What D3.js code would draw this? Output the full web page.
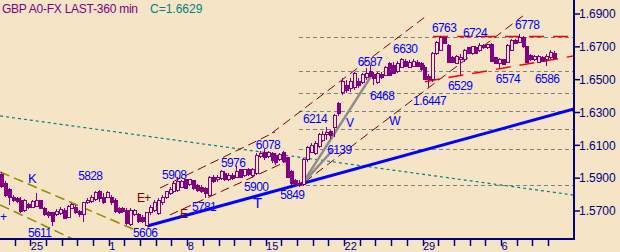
<!DOCTYPE html>
<html>
<head>
<meta charset="utf-8">
<style>
    body { margin: 0; background: #f5e5c6; }
    svg { display: block; }
    text { font-family: "Liberation Sans", Arial, sans-serif; }
</style>
</head>
<body>
<svg width="620" height="252"></svg>
<script src="https://d3js.org/d3.v7.min.js"></script>
<script>

let width = 620
let height = 252
let svg = d3.select("svg")

// 360 min bars, prices in pips (x 0.0001)
let opens = [15925,15870,15834,15785,15779,15761,15706,15737,15724,15730,
    15761,15718,15688,15688,15676,15682,15706,15663,15718,15724,
    15694,15676,15749,15755,15773,15816,15785,15785,15785,15767,
    15718,15718,15706,15615,15676,15676,15663,15609,15688,15706,
    15682,15749,15785,15804,15816,15822,15846,15889,15864,15883,
    15858,15846,15840,15797,15907,15889,15901,15931,15889,15919,
    15907,15950,15919,15950,15919,15931,16029,16059,16029,16053,
    16041,16011,16059,16023,15938,15883,15870,15864,16011,16059,
    16053,16090,16132,16163,16187,16206,16352,16419,16467,16449,
    16455,16486,16480,16516,16547,16534,16480,16534,16528,16601,
    16589,16547,16577,16613,16577,16583,16607,16601,16577,16522,
    16498,16662,16680,16754,16711,16638,16601,16620,16620,16693,
    16662,16693,16680,16711,16693,16717,16632,16601,16620,16607,
    16680,16741,16729,16754,16699,16650,16620,16607,16638,16620,
    16632,16662]
let highs = [15938,15883,15840,15797,15785,15785,15773,15749,15767,15810,
    15767,15724,15700,15694,15712,15724,15718,15737,15749,15737,
    15706,15755,15779,15797,15822,15828,15810,15822,15797,15779,
    15724,15724,15718,15718,15712,15688,15676,15694,15737,15767,
    15779,15797,15822,15846,15877,15908,15889,15895,15895,15889,
    15864,15858,15846,15913,15919,15919,15950,15944,15931,15931,
    15976,15956,15956,15962,15962,16053,16065,16078,16065,16059,
    16053,16053,16065,16029,15950,15895,15889,16023,16096,16114,
    16126,16175,16187,16214,16193,16291,16364,16510,16498,16510,
    16547,16510,16540,16571,16587,16547,16547,16547,16583,16607,
    16607,16613,16630,16626,16620,16626,16620,16607,16589,16534,
    16668,16735,16763,16760,16717,16644,16650,16656,16687,16699,
    16705,16705,16724,16717,16720,16723,16638,16632,16626,16717,
    16747,16747,16778,16766,16705,16656,16650,16650,16644,16656,
    16680,16674]
let lows = [15840,15785,15737,15755,15749,15688,15694,15712,15718,15724,
    15712,15670,15657,15611,15670,15676,15651,15657,15712,15682,
    15663,15633,15743,15749,15761,15755,15743,15779,15737,15688,
    15682,15688,15615,15609,15670,15627,15627,15606,15676,15694,
    15676,15737,15773,15797,15810,15816,15840,15834,15852,15828,
    15816,15810,15781,15791,15870,15877,15889,15883,15883,15889,
    15901,15901,15907,15913,15900,15919,16023,16011,16023,15993,
    15980,16005,15993,15901,15858,15852,15849,15852,15999,16053,
    16041,16084,16120,16132,16139,16151,16279,16406,16419,16425,
    16437,16449,16474,16498,16516,16468,16474,16504,16522,16522,
    16534,16540,16571,16577,16571,16577,16577,16553,16498,16447,
    16486,16650,16674,16717,16601,16601,16595,16529,16607,16656,
    16656,16656,16668,16687,16687,16607,16595,16574,16589,16601,
    16674,16717,16723,16693,16601,16613,16613,16601,16607,16586,
    16626,16626]
let closes = [15852,15797,15785,15761,15755,15694,15761,15724,15755,15761,
    15718,15676,15670,15633,15694,15712,15657,15730,15737,15688,
    15676,15749,15767,15785,15810,15779,15749,15810,15749,15694,
    15688,15694,15621,15706,15706,15633,15633,15688,15724,15749,
    15767,15785,15816,15834,15870,15877,15877,15840,15889,15840,
    15822,15816,15804,15907,15877,15907,15938,15889,15919,15901,
    15938,15907,15950,15925,15950,16041,16053,16023,16059,16005,
    15993,16047,15999,15907,15870,15864,15858,16011,16084,16102,
    16114,16163,16169,16181,16157,16279,16291,16486,16437,16486,
    16540,16467,16534,16540,16522,16510,16540,16516,16577,16528,
    16540,16601,16620,16583,16607,16613,16583,16559,16504,16504,
    16662,16729,16754,16723,16607,16607,16644,16638,16680,16662,
    16699,16662,16711,16693,16717,16613,16601,16620,16595,16711,
    16741,16723,16754,16699,16607,16620,16644,16644,16613,16644,
    16668,16629]

// 4 bars per trading day, mondays get a date label
let barsPerDay = 4
let tradingDays = 36
let mondays = [[2, "25"], [7, "1"], [12, "8"], [17, "15"], [22, "22"], [27, "29"], [32, "6"]]
let priceTicks = [1.57, 1.59, 1.61, 1.63, 1.65, 1.67, 1.69]

// drawn studies: [bar, price] end points
let levels = [1.6760, 1.6553, 1.6419, 1.6310, 1.6201, 1.6077, 1.5858]
let levelStart = 76
let tealLine = [[-0.2, 1.6279], [146.1, 1.5797]]
let blueLine = [[37.3, 1.5609], [146.1, 1.6321]]
let grayLines = [[[76.8, 1.5864], [94.9, 1.6540]], [[77.0, 1.5870], [84.6, 1.6070]]]
let maroonLines = [
    [[69.1, 1.6175], [108.1, 1.6881]],
    [[77.5, 1.5877], [133.1, 1.6888]],
    [[40.6, 1.5840], [69.9, 1.6181]],
    [[43.1, 1.5676], [73.7, 1.6011]]
]
let oliveLines = [[[-0.2, 1.5938], [33.7, 1.5590]], [[-0.2, 1.5737], [18.9, 1.5523]]]
let redLines = [[[108.1, 1.6488], [145.9, 1.6644]], [[110.2, 1.6763], [144.6, 1.6763]]]

// text notes: [text, bar, price, colour, size]
let notes = [
    ["5611", 6.9, 1.5543], ["5828", 19.7, 1.5889], ["5606", 33.7, 1.5543],
    ["5908", 41.1, 1.5895], ["5781", 48.7, 1.5700], ["5976", 56.1, 1.5968],
    ["5900", 62.0, 1.5822], ["6078", 65.0, 1.6078], ["5849", 71.2, 1.5773],
    ["6214", 77.0, 1.6236], ["6139", 83.2, 1.6047], ["6587", 91.0, 1.6583],
    ["6468", 94.1, 1.6376], ["6630", 100.0, 1.6662], ["1.6447", 105.1, 1.6346],
    ["6763", 109.9, 1.6790], ["6724", 117.8, 1.6760], ["6778", 131.1, 1.6808],
    ["6529", 114.0, 1.6437], ["6574", 126.2, 1.6480], ["6586", 136.2, 1.6480],
    ["K", 6.9, 1.5870, "#0000ff", 13], ["T", 64.3, 1.5718, "#0000ff", 15],
    ["V", 88.0, 1.6212], ["W", 99.0, 1.6224], ["+", -0.2, 1.5639],
    ["E+", 34.7, 1.5755, "#800000"], ["E", 45.7, 1.5657, "#800000"]
]

let bg = "#f5e5c6"
let purple = "#800080"
let navy = "#000080"
let plotRight = 574
let plotBottom = 239

let x = d3.scaleLinear().domain([0, 141]).range([0.885, 0.885 + 3.922 * 141])
let y = d3.scaleLinear().domain([1.57, 1.69]).range([211, 14])
let px = v => v / 10000

svg.append("rect").attr("width", width).attr("height", height).attr("fill", bg)

svg.append("defs").append("clipPath").attr("id", "plot")
    .append("rect").attr("width", plotRight).attr("height", plotBottom)

let plot = svg.append("g").attr("clip-path", "url(#plot)")

let lineGen = d3.line().x(d => x(d[0])).y(d => y(d[1]))

// horizontal levels
plot.append("g").selectAll("line")
    .data(levels)
    .enter()
    .append("line")
    .attr("x1", x(levelStart)).attr("x2", plotRight)
    .attr("y1", d => Math.round(y(d)) + 0.5).attr("y2", d => Math.round(y(d)) + 0.5)
    .attr("stroke", "#808080").attr("stroke-dasharray", "4,3")

function drawLines(data, color, w, dash) {
    plot.append("g").selectAll("path")
        .data(data)
        .enter()
        .append("path")
        .attr("d", lineGen)
        .attr("fill", "none")
        .attr("stroke", color)
        .attr("stroke-width", w)
        .attr("stroke-dasharray", dash)
}

drawLines([tealLine], "#008080", 1.2, "3,3")
drawLines(oliveLines, "#8c8c00", 1.5, "10,5")
drawLines(maroonLines, "#800000", 1, "9,5")
drawLines(redLines, "#ff0000", 1.5, "15,9")
drawLines(grayLines, "#8c8c8c", 2.5, null)
drawLines([blueLine], "#0000ff", 3, null)

// candles
let bars = d3.range(closes.length)
let candle = plot.append("g").attr("shape-rendering", "crispEdges")
    .selectAll("g")
    .data(bars)
    .enter()
    .append("g")

candle.append("line")
    .attr("x1", i => Math.round(x(i)) + 0.5).attr("x2", i => Math.round(x(i)) + 0.5)
    .attr("y1", i => y(px(highs[i]))).attr("y2", i => y(px(lows[i])))
    .attr("stroke", purple)

candle.append("rect")
    .attr("x", i => Math.round(x(i)) - 1)
    .attr("width", 3)
    .attr("y", i => y(px(Math.max(opens[i], closes[i]))))
    .attr("height", i => Math.max(1, Math.abs(y(px(opens[i])) - y(px(closes[i])))))
    .attr("fill", i => closes[i] >= opens[i] ? bg : purple)
    .attr("stroke", purple)

// notes
svg.append("g").selectAll("text")
    .data(notes)
    .enter()
    .append("text")
    .attr("x", d => x(d[1]))
    .attr("y", d => y(d[2]))
    .attr("fill", d => d[3] || "#0000ff")
    .style("font-size", d => (d[4] || 12) + "px")
    .style("letter-spacing", "-0.6px")
    .text(d => d[0])

// axes
svg.append("line").attr("x1", 0).attr("x2", plotRight + 1).attr("y1", plotBottom).attr("y2", plotBottom)
    .attr("stroke", navy).attr("stroke-width", 2)
svg.append("line").attr("x1", plotRight).attr("x2", plotRight).attr("y1", 0).attr("y2", plotBottom)
    .attr("stroke", navy).attr("stroke-width", 2)

let dayTicks = d3.range(1, tradingDays).map(d => d * barsPerDay - 0.5)
svg.append("g").selectAll("line")
    .data(dayTicks)
    .enter()
    .append("line")
    .attr("x1", d => Math.round(x(d)) + 0.5).attr("x2", d => Math.round(x(d)) + 0.5)
    .attr("y1", plotBottom).attr("y2", plotBottom + 7)
    .attr("stroke", navy).attr("stroke-width", 1.5)

svg.append("g").selectAll("text")
    .data(mondays)
    .enter()
    .append("text")
    .attr("x", d => x(d[0] * barsPerDay - 0.5) + 0.5)
    .attr("y", 249.5)
    .attr("fill", navy)
    .style("font-size", "11px")
    .text(d => d[1])

svg.append("g").selectAll("line")
    .data(priceTicks)
    .enter()
    .append("line")
    .attr("x1", plotRight).attr("x2", plotRight + 6)
    .attr("y1", d => y(d)).attr("y2", d => y(d))
    .attr("stroke", navy).attr("stroke-width", 1.5)

svg.append("g").selectAll("text")
    .data(priceTicks)
    .enter()
    .append("text")
    .attr("x", plotRight + 5)
    .attr("y", d => y(d))
    .attr("dy", "0.36em")
    .attr("fill", navy)
    .style("font-size", "12px")
    .text(d => d.toFixed(4))

// title
svg.append("text").attr("x", 2).attr("y", 13)
    .attr("fill", purple).style("font-size", "12px")
    .attr("textLength", 136)
    .text("GBP A0-FX LAST-360 min")
svg.append("text").attr("x", 150).attr("y", 13)
    .attr("fill", "#008080").style("font-size", "12px")
    .text("C=" + px(closes[closes.length - 1]).toFixed(4))

</script>
</body>
</html>
